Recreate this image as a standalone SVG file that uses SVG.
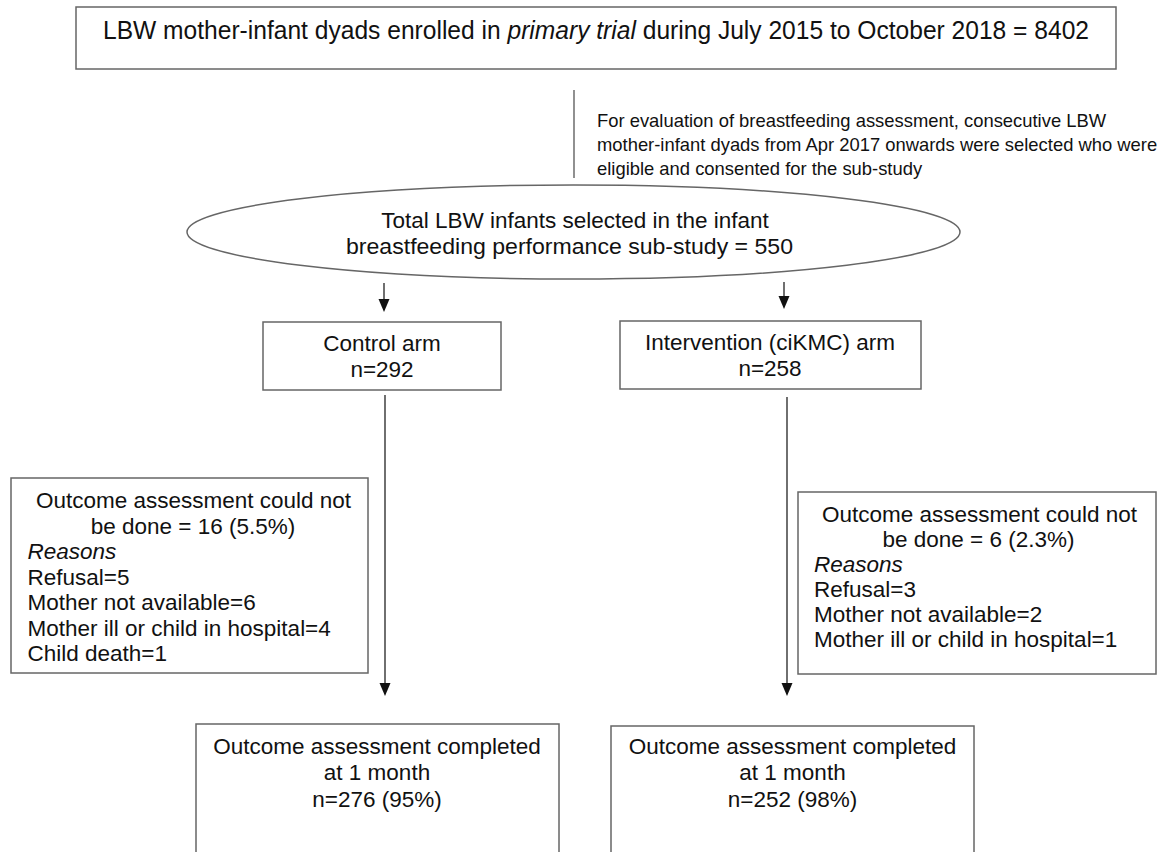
<svg xmlns="http://www.w3.org/2000/svg" width="1157" height="852" viewBox="0 0 1157 852">
<style>
  .box { fill: #fff; stroke: #666; stroke-width: 1.5; }
  .t { font-family: "Liberation Sans", Arial, sans-serif; font-size: 22.5px; fill: #111; }
  .c { text-anchor: middle; }
  .small { font-size: 18.4px; }
  .big { font-size: 25px; }
  .conn { stroke: #222; stroke-width: 1.3; fill: none; }
  .plain { stroke: #555; stroke-width: 1.3; fill: none; }
  .head { fill: #111; }
</style>
<rect width="1157" height="852" fill="#fff"/>

<g id="connectors">
  <line class="plain" x1="574" y1="90" x2="574" y2="178"/>
  <path class="conn" d="M384,283 L384,299"/>
  <path class="head" d="M378.5,299 L389.5,299 L384,312 Z"/>
  <path class="conn" d="M784,282 L784,296"/>
  <path class="head" d="M778.5,296 L789.5,296 L784,309 Z"/>
  <path class="conn" d="M385,395 L385,683"/>
  <path class="head" d="M379.5,683 L390.5,683 L385,696 Z"/>
  <path class="conn" d="M787,397 L787,683"/>
  <path class="head" d="M781.5,683 L792.5,683 L787,696 Z"/>
</g>

<g id="enrolled">
  <rect class="box" x="76" y="7" width="1040" height="62"/>
  <text class="t big c" x="596" y="39" textLength="986" lengthAdjust="spacingAndGlyphs">LBW mother-infant dyads enrolled in <tspan font-style="italic">primary trial</tspan> during July 2015 to October 2018 = 8402</text>
</g>

<g id="note">
  <text class="t small" x="597" y="127">For evaluation of breastfeeding assessment, consecutive LBW</text>
  <text class="t small" x="597" y="151">mother-infant dyads from Apr 2017 onwards were selected who were</text>
  <text class="t small" x="597" y="175">eligible and consented for the sub-study</text>
</g>

<g id="selected">
  <ellipse class="box" cx="573.5" cy="232" rx="386.5" ry="47"/>
  <text class="t c" x="575" y="228">Total LBW infants selected in the infant</text>
  <text class="t c" x="569.5" y="254" textLength="447" lengthAdjust="spacingAndGlyphs">breastfeeding performance sub-study = 550</text>
</g>

<g id="control">
  <rect class="box" x="263" y="322" width="238" height="68"/>
  <text class="t c" x="382" y="351">Control arm</text>
  <text class="t c" x="382" y="377">n=292</text>
</g>

<g id="intervention">
  <rect class="box" x="620" y="321" width="301" height="68"/>
  <text class="t c" x="770" y="350">Intervention (ciKMC) arm</text>
  <text class="t c" x="770" y="376">n=258</text>
</g>

<g id="control-lost">
  <rect class="box" x="11" y="478" width="357" height="195"/>
  <text class="t c" x="193.5" y="508">Outcome assessment could not</text>
  <text class="t c" x="193" y="533.5">be done = 16 (5.5%)</text>
  <text class="t" x="27.5" y="559" font-style="italic">Reasons</text>
  <text class="t" x="27.5" y="584.5">Refusal=5</text>
  <text class="t" x="27.5" y="610">Mother not available=6</text>
  <text class="t" x="27.5" y="635.5">Mother ill or child in hospital=4</text>
  <text class="t" x="27.5" y="661">Child death=1</text>
</g>

<g id="intervention-lost">
  <rect class="box" x="798" y="492" width="358" height="182"/>
  <text class="t c" x="979.5" y="522">Outcome assessment could not</text>
  <text class="t c" x="978.5" y="547">be done = 6 (2.3%)</text>
  <text class="t" x="814" y="572" font-style="italic">Reasons</text>
  <text class="t" x="814" y="597">Refusal=3</text>
  <text class="t" x="814" y="622">Mother not available=2</text>
  <text class="t" x="814" y="647">Mother ill or child in hospital=1</text>
</g>

<g id="control-done">
  <rect class="box" x="196" y="724" width="363" height="140"/>
  <text class="t c" x="377" y="754">Outcome assessment completed</text>
  <text class="t c" x="377" y="780">at 1 month</text>
  <text class="t c" x="377" y="807">n=276 (95%)</text>
</g>

<g id="intervention-done">
  <rect class="box" x="611" y="726" width="363" height="140"/>
  <text class="t c" x="792.5" y="754">Outcome assessment completed</text>
  <text class="t c" x="792.5" y="780">at 1 month</text>
  <text class="t c" x="792.5" y="807">n=252 (98%)</text>
</g>
</svg>
